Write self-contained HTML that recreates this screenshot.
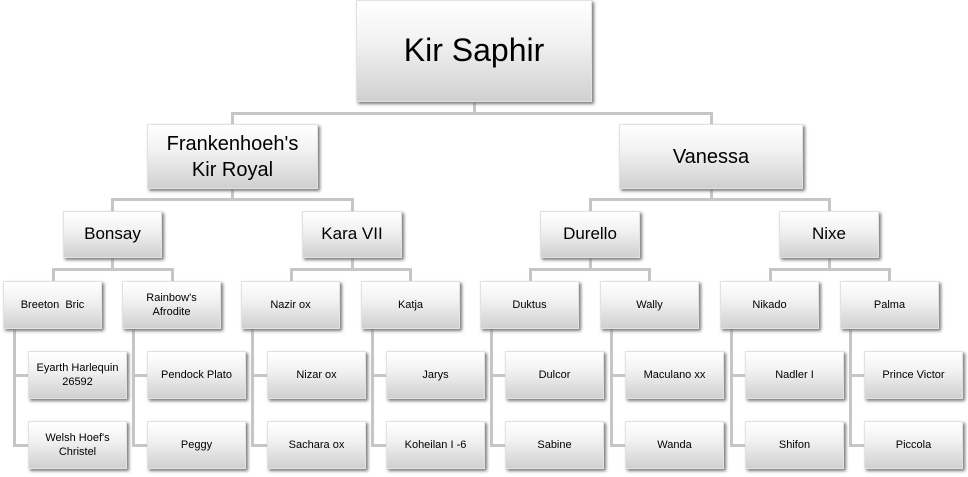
<!DOCTYPE html>
<html><head><style>
body{margin:0;width:968px;height:477px;background:#fff;position:relative;overflow:hidden;font-family:"Liberation Sans",sans-serif;}
.b{position:absolute;box-sizing:border-box;background:linear-gradient(#ffffff 0%,#f2f2f2 40%,#d0d0d0 100%);border:1px solid #e2e2e2;box-shadow:2px 2px 3px #7a7a7a;display:flex;align-items:center;justify-content:center;text-align:center;color:#000;line-height:1.3;}
.s{font-size:11px;width:99px;height:48px;}
.l{position:absolute;background:#c6c6c6;}
</style></head><body>
<div class="l" style="left:473px;top:102px;width:3px;height:13px"></div>
<div class="l" style="left:231px;top:112px;width:482px;height:3px"></div>
<div class="l" style="left:231px;top:112px;width:3px;height:12px"></div>
<div class="l" style="left:710px;top:112px;width:3px;height:12px"></div>

<div class="l" style="left:231px;top:189px;width:3px;height:11px"></div>
<div class="l" style="left:111px;top:198px;width:243px;height:3px"></div>
<div class="l" style="left:111px;top:198px;width:3px;height:13px"></div>
<div class="l" style="left:351px;top:198px;width:3px;height:13px"></div>
<div class="l" style="left:710px;top:189px;width:3px;height:11px"></div>
<div class="l" style="left:589px;top:198px;width:242px;height:3px"></div>
<div class="l" style="left:589px;top:198px;width:3px;height:13px"></div>
<div class="l" style="left:828px;top:198px;width:3px;height:13px"></div>

<div class="l" style="left:111px;top:258px;width:3px;height:12px"></div>
<div class="l" style="left:52px;top:268px;width:122px;height:3px"></div>
<div class="l" style="left:52px;top:268px;width:3px;height:13px"></div>
<div class="l" style="left:171px;top:268px;width:3px;height:13px"></div>
<div class="l" style="left:351px;top:258px;width:3px;height:12px"></div>
<div class="l" style="left:290px;top:268px;width:122px;height:3px"></div>
<div class="l" style="left:290px;top:268px;width:3px;height:13px"></div>
<div class="l" style="left:409px;top:268px;width:3px;height:13px"></div>
<div class="l" style="left:589px;top:258px;width:3px;height:12px"></div>
<div class="l" style="left:529px;top:268px;width:122px;height:3px"></div>
<div class="l" style="left:529px;top:268px;width:3px;height:13px"></div>
<div class="l" style="left:648px;top:268px;width:3px;height:13px"></div>
<div class="l" style="left:828px;top:258px;width:3px;height:12px"></div>
<div class="l" style="left:769px;top:268px;width:122px;height:3px"></div>
<div class="l" style="left:769px;top:268px;width:3px;height:13px"></div>
<div class="l" style="left:888px;top:268px;width:3px;height:13px"></div>

<div class="l" style="left:13px;top:329px;width:3px;height:118px"></div><div class="l" style="left:13px;top:374px;width:15px;height:3px"></div><div class="l" style="left:13px;top:444px;width:15px;height:3px"></div>
<div class="l" style="left:132px;top:329px;width:3px;height:118px"></div><div class="l" style="left:132px;top:374px;width:15px;height:3px"></div><div class="l" style="left:132px;top:444px;width:15px;height:3px"></div>
<div class="l" style="left:251px;top:329px;width:3px;height:118px"></div><div class="l" style="left:251px;top:374px;width:16px;height:3px"></div><div class="l" style="left:251px;top:444px;width:16px;height:3px"></div>
<div class="l" style="left:371px;top:329px;width:3px;height:118px"></div><div class="l" style="left:371px;top:374px;width:15px;height:3px"></div><div class="l" style="left:371px;top:444px;width:15px;height:3px"></div>
<div class="l" style="left:490px;top:329px;width:3px;height:118px"></div><div class="l" style="left:490px;top:374px;width:15px;height:3px"></div><div class="l" style="left:490px;top:444px;width:15px;height:3px"></div>
<div class="l" style="left:610px;top:329px;width:3px;height:118px"></div><div class="l" style="left:610px;top:374px;width:15px;height:3px"></div><div class="l" style="left:610px;top:444px;width:15px;height:3px"></div>
<div class="l" style="left:730px;top:329px;width:3px;height:118px"></div><div class="l" style="left:730px;top:374px;width:15px;height:3px"></div><div class="l" style="left:730px;top:444px;width:15px;height:3px"></div>
<div class="l" style="left:849px;top:329px;width:3px;height:118px"></div><div class="l" style="left:849px;top:374px;width:15px;height:3px"></div><div class="l" style="left:849px;top:444px;width:15px;height:3px"></div>

<div class="b" style="left:356px;top:0;width:236px;height:102px;font-size:32px">Kir Saphir</div>
<div class="b" style="left:147px;top:124px;width:171px;height:65px;font-size:20px">Frankenhoeh's<br>Kir Royal</div>
<div class="b" style="left:619px;top:124px;width:184px;height:65px;font-size:20px">Vanessa</div>

<div class="b" style="left:63px;top:211px;width:99px;height:47px;font-size:17px">Bonsay</div>
<div class="b" style="left:302px;top:211px;width:100px;height:47px;font-size:17px">Kara VII</div>
<div class="b" style="left:540px;top:211px;width:100px;height:47px;font-size:17px">Durello</div>
<div class="b" style="left:779px;top:211px;width:100px;height:47px;font-size:17px">Nixe</div>

<div class="b s" style="left:3px;top:281px">Breeton&nbsp; Bric</div>
<div class="b s" style="left:122px;top:281px">Rainbow's<br>Afrodite</div>
<div class="b s" style="left:241px;top:281px">Nazir ox</div>
<div class="b s" style="left:361px;top:281px">Katja</div>
<div class="b s" style="left:480px;top:281px">Duktus</div>
<div class="b s" style="left:600px;top:281px">Wally</div>
<div class="b s" style="left:720px;top:281px">Nikado</div>
<div class="b s" style="left:840px;top:281px">Palma</div>

<div class="b s" style="left:28px;top:351px">Eyarth Harlequin<br>26592</div>
<div class="b s" style="left:28px;top:421px">Welsh Hoef's<br>Christel</div>
<div class="b s" style="left:147px;top:351px">Pendock Plato</div>
<div class="b s" style="left:147px;top:421px">Peggy</div>
<div class="b s" style="left:267px;top:351px">Nizar ox</div>
<div class="b s" style="left:267px;top:421px">Sachara ox</div>
<div class="b s" style="left:386px;top:351px">Jarys</div>
<div class="b s" style="left:386px;top:421px">Koheilan I -6</div>
<div class="b s" style="left:505px;top:351px">Dulcor</div>
<div class="b s" style="left:505px;top:421px">Sabine</div>
<div class="b s" style="left:625px;top:351px">Maculano xx</div>
<div class="b s" style="left:625px;top:421px">Wanda</div>
<div class="b s" style="left:745px;top:351px">Nadler I</div>
<div class="b s" style="left:745px;top:421px">Shifon</div>
<div class="b s" style="left:864px;top:351px">Prince Victor</div>
<div class="b s" style="left:864px;top:421px">Piccola</div>
</body></html>
